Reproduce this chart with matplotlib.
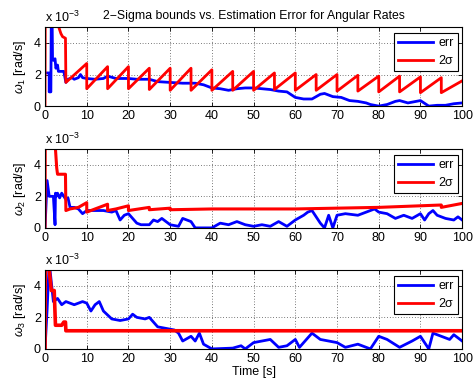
import matplotlib
matplotlib.use("Agg")
import matplotlib.pyplot as plt

plt.rcParams['font.family'] = ['Liberation Sans', 'DejaVu Sans']
plt.rcParams['mathtext.fontset'] = 'custom'
plt.rcParams['mathtext.rm'] = 'Liberation Sans'
plt.rcParams['mathtext.it'] = 'Liberation Sans:italic'

title = "2\u2212Sigma bounds vs. Estimation Error for Angular Rates"
xlabel = "Time [s]"
ylabels = [r"$\omega_1$ [rad/s]", r"$\omega_2$ [rad/s]", r"$\omega_3$ [rad/s]"]
legend_labels = ["err", "2\u03c3"]
xticks = [0, 10, 20, 30, 40, 50, 60, 70, 80, 90, 100]
yticks = [0, 2, 4]

# values in units of 1e-3 rad/s
t1_err = [0, 1.0, 1.0, 1.4, 1.5, 1.7, 1.8, 2.0, 2.4, 2.6, 3.0, 3.2, 3.5, 4.5, 5.0, 5.5, 6.5, 7.0, 8.0, 8.5, 9.0, 10, 12, 14, 15, 17, 20, 22, 25, 27, 30, 33, 36, 38, 40, 42, 44, 46, 48, 50, 52, 54, 56, 58, 60, 62, 64, 66, 67, 69, 71, 73, 75, 77, 78, 80, 82, 84, 85, 87, 89, 90, 92, 94, 96, 98, 100]
v1_err = [2.1, 2.1, 0.9, 0.9, 5.5, 5.5, 3.0, 2.9, 3.0, 2.4, 2.6, 2.2, 2.2, 2.2, 1.5, 1.7, 1.8, 1.7, 1.8, 2.0, 1.8, 1.75, 1.7, 1.75, 1.9, 1.75, 1.75, 1.7, 1.7, 1.55, 1.5, 1.45, 1.45, 1.35, 1.15, 1.1, 1.0, 1.1, 1.15, 1.15, 1.1, 1.05, 0.95, 0.9, 0.55, 0.45, 0.45, 0.75, 0.8, 0.6, 0.55, 0.35, 0.3, 0.2, 0.1, 0.0, 0.1, 0.3, 0.35, 0.2, 0.3, 0.35, 0.0, 0.05, 0.05, 0.15, 0.2]
t1_sig = [0, 0.05, 3.3, 3.8, 4.2, 4.9, 5.0, 10.0, 10.0, 15.0, 15.0, 20.0, 20.0, 25.0, 25.0, 30.0, 30.0, 35.0, 35.0, 40.0, 40.0, 45.0, 45.0, 50.0, 50.0, 55.0, 55.0, 60.0, 60.0, 65.0, 65.0, 70.0, 70.0, 75.0, 75.0, 80.0, 80.0, 85.0, 85.0, 90.0, 90.0, 95.0, 95.0, 100.0]
v1_sig = [0, 6.0, 5.0, 4.6, 4.4, 4.3, 1.5, 2.7, 1.1, 2.5, 1.1, 2.5, 1.1, 2.4, 1.05, 2.4, 1.0, 2.4, 1.0, 2.3, 1.0, 2.2, 1.0, 2.2, 1.0, 2.1, 1.05, 2.1, 1.0, 2.0, 1.0, 2.0, 0.95, 1.95, 0.95, 1.9, 0.9, 1.9, 0.9, 1.85, 0.85, 1.8, 0.85, 1.6]

t2_err = [0, 0.5, 1.0, 2.0, 2.4, 2.5, 2.7, 3.0, 3.5, 4.0, 4.5, 5.0, 5.5, 6.0, 7.0, 8.0, 9.0, 10, 12, 14, 16, 17, 18, 19, 20, 21, 22, 23, 25, 26, 27, 28, 30, 32, 33, 35, 36, 38, 40, 42, 44, 46, 48, 50, 52, 54, 56, 58, 60, 62, 63, 64, 65, 66, 67, 68, 69, 70, 72, 75, 77, 79, 80, 82, 84, 86, 88, 90, 91, 92, 93, 94, 96, 98, 99, 100]
v2_err = [0, 3.0, 2.0, 2.0, 0.2, 2.2, 2.0, 2.2, 1.9, 2.2, 2.0, 1.8, 1.9, 1.3, 1.3, 1.2, 0.9, 1.1, 1.1, 1.1, 1.0, 1.1, 0.5, 0.8, 0.9, 0.6, 0.3, 0.2, 0.2, 0.5, 0.4, 0.6, 0.2, 0.1, 0.6, 0.4, 0.0, 0.0, 0.0, 0.3, 0.2, 0.4, 0.2, 0.1, 0.2, 0.1, 0.4, 0.1, 0.5, 0.8, 1.0, 1.1, 0.7, 0.3, 0.0, 0.8, 0.0, 0.8, 0.9, 0.8, 1.0, 1.2, 1.0, 0.9, 0.6, 0.8, 0.6, 0.9, 0.5, 0.9, 1.1, 0.8, 0.6, 0.5, 0.7, 0.5]
t2_sig = [0, 0.05, 2.5, 2.8, 3.0, 4.9, 5.0, 6.0, 8.0, 10.0, 10.0, 12.0, 15.0, 15.0, 17.0, 20.0, 20.0, 25.0, 25.0, 30.0, 30.0, 40.0, 50.0, 60.0, 70.0, 80.0, 85.0, 90.0, 95.0, 95.0, 100.0]
v2_sig = [0, 6.0, 5.0, 3.8, 3.4, 3.4, 1.1, 1.2, 1.3, 1.6, 1.0, 1.2, 1.5, 1.1, 1.2, 1.4, 1.1, 1.3, 1.15, 1.25, 1.15, 1.2, 1.2, 1.2, 1.25, 1.3, 1.35, 1.4, 1.45, 1.3, 1.55]

t3_err = [0, 0.5, 1.0, 2.0, 3.0, 4.0, 5.0, 7.0, 9.0, 10, 11, 12, 13, 14, 16, 18, 20, 21, 22, 24, 25, 27, 29, 31, 32, 33, 35, 36, 37, 38, 40, 45, 47, 48, 50, 54, 56, 58, 60, 61, 64, 66, 70, 72, 75, 78, 80, 82, 85, 88, 90, 91, 92, 93, 95, 97, 98, 100]
v3_err = [0, 2.5, 5.5, 3.0, 3.2, 2.8, 3.0, 2.8, 3.0, 2.9, 2.4, 2.8, 3.0, 2.4, 1.9, 1.8, 1.9, 2.2, 2.0, 1.9, 2.0, 1.4, 1.3, 1.2, 1.0, 0.5, 0.8, 0.5, 1.0, 0.3, 0.0, 0.05, 0.2, 0.0, 0.4, 0.6, 0.1, 0.2, 0.6, 0.1, 1.0, 0.6, 0.4, 0.1, 0.3, 0.0, 0.8, 0.6, 0.1, 0.5, 0.8, 0.4, 0.0, 1.0, 0.8, 0.6, 0.9, 0.5]
t3_sig = [0, 0.05, 1.0, 1.5, 2.2, 2.5, 4.0, 4.5, 4.9, 5.0, 100.0]
v3_sig = [0, 6.0, 5.0, 3.7, 3.7, 1.5, 1.5, 1.7, 1.7, 1.15, 1.15]

errs = [(t1_err, v1_err), (t2_err, v2_err), (t3_err, v3_err)]
sigs = [(t1_sig, v1_sig), (t2_sig, v2_sig), (t3_sig, v3_sig)]
sig_lw = [2.0, 2.2, 2.6]

fig = plt.figure(figsize=(4.74, 3.83), dpi=100)
bottoms = [0.723, 0.405, 0.089]
for i in range(3):
    ax = fig.add_axes([0.095, bottoms[i], 0.880, 0.206])
    ax.plot(*errs[i], color='#0000ff', lw=2.0, label=legend_labels[0])
    ax.plot(*sigs[i], color='#ff0000', lw=sig_lw[i], label=legend_labels[1])
    ax.set_xlim(0, 100)
    ax.set_ylim(0, 5)
    ax.set_xticks(xticks)
    ax.set_yticks(yticks)
    ax.grid(True, color='black', linestyle=(0, (1, 3)), linewidth=0.5)
    ax.tick_params(direction='in', top=True, right=True, labelsize=9, length=3, width=0.6, pad=3)
    for s in ax.spines.values():
        s.set_linewidth(0.8)
    ax.set_ylabel(ylabels[i], fontsize=9, labelpad=4)
    ax.text(0.0, 1.03, r"x 10$^{-3}$", transform=ax.transAxes, fontsize=9, ha='left', va='bottom')
    leg = ax.legend(loc='upper right', bbox_to_anchor=(0.99, 0.925), borderaxespad=0.0,
                    fontsize=9, fancybox=False, framealpha=1,
                    edgecolor='black', handlelength=2.8, borderpad=0.35, labelspacing=0.45,
                    handletextpad=0.4)
    leg.get_frame().set_linewidth(0.8)
    for h in leg.get_lines():
        h.set_linewidth(2.0)
    if i == 0:
        ax.set_title(title, fontsize=8.8, pad=6)
    if i == 2:
        ax.set_xlabel(xlabel, fontsize=9, labelpad=1)

fig.savefig("out.png", dpi=100)
